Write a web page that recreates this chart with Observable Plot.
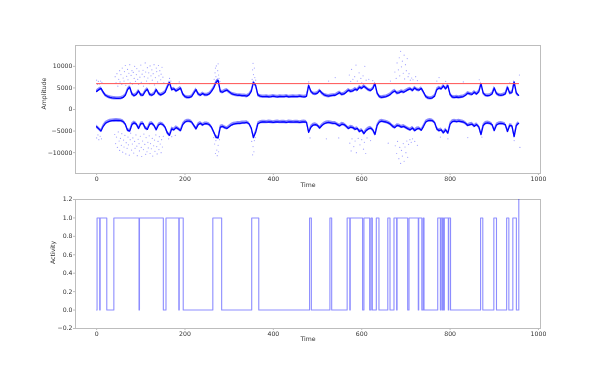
<!DOCTYPE html>
<html>
<head>
<meta charset="utf-8">
<script src="https://cdn.jsdelivr.net/npm/d3@7"></script>
<script src="https://cdn.jsdelivr.net/npm/@observablehq/plot@0.6"></script>
<style>
  html, body { margin: 0; padding: 0; background: #fff; }
  #fig { position: relative; width: 600px; height: 375px; overflow: hidden; background: #fff; }
  #top, #bottom { position: absolute; left: 0; will-change: transform; }
  #top { top: 0; }
  #bottom { top: 192px; }
  svg text { -webkit-font-smoothing: antialiased; }
</style>
</head>
<body>
<div id="fig"><div id="top"></div><div id="bottom"></div></div>
<script>
// ---------- DATA ----------
const envStep = 5; // sampling of the envelope (Time units)
// upper envelope (centre of dense band), t = 0,5,10,...,955
const upperEnv = [
  4200,4600,4900,4000,3300,3000,2800,2700,2650,2600,
  2600,2650,2800,3300,4600,5200,3600,3200,3500,4300,
  3400,3300,4200,4700,3500,3300,3600,4600,3700,3400,
  3600,4000,5200,6300,4600,4800,4300,4600,5000,3600,
  3000,2800,2800,3000,3800,4600,3600,3300,3700,3400,
  3400,3600,4200,5000,6200,6800,4200,4000,4300,4500,
  4100,3700,3500,3400,3300,3300,3200,3200,3100,3400,
  4200,6300,5600,3400,3100,3000,3000,3050,2950,3000,
  3100,3000,2950,3050,3000,3000,3100,2950,3000,3050,
  3000,3000,3100,3000,2950,3050,5600,4200,3700,3600,
  3800,4400,3800,3400,3200,3100,3200,3300,3300,3600,
  3900,3500,3600,4000,4500,4200,4300,4700,4500,5200,
  4900,5400,5000,4600,4400,4800,6000,3800,3000,2800,
  2900,3000,3200,3500,4000,4300,3800,3900,4200,4000,
  4300,4600,4800,4400,5000,4600,4500,4900,4000,3000,
  2700,2600,2700,3100,4600,5000,4800,5500,4800,5600,
  3500,2900,2800,2900,2800,2900,3000,3300,3800,3600,
  3500,4000,3600,4100,6000,3800,3300,3200,3300,3600,
  5000,3700,3400,3300,3400,3600,5200,3800,3900,6400,
  3800,3300
];
// lower envelope, same sampling
const lowerEnv = [
  -4000,-4500,-5000,-3900,-3200,-2900,-2700,-2600,-2550,-2500,
  -2550,-2600,-2800,-3400,-4800,-5000,-3500,-3100,-3400,-4400,
  -3300,-3200,-4300,-4600,-3400,-3200,-3700,-4700,-3600,-3300,
  -3500,-4100,-5400,-6000,-4500,-4700,-4200,-4500,-4900,-3500,
  -2900,-2700,-2700,-2900,-3700,-4500,-3500,-3200,-3600,-3300,
  -3300,-3500,-4100,-5200,-6400,-6600,-4100,-3900,-4200,-4400,
  -4000,-3600,-3400,-3300,-3200,-3200,-3100,-3100,-3000,-3300,
  -4300,-6500,-5300,-3300,-3000,-2900,-2900,-2950,-2850,-2900,
  -3000,-2900,-2850,-2950,-2900,-2900,-3000,-2850,-2900,-2950,
  -2900,-2900,-3000,-2900,-2850,-2950,-5300,-4100,-3600,-3500,
  -3700,-4300,-3700,-3300,-3100,-3000,-3100,-3200,-3200,-3500,
  -3800,-3400,-3500,-3900,-4400,-4100,-4200,-4600,-4400,-5100,
  -4800,-5600,-4900,-4500,-4300,-4700,-5800,-3700,-2900,-2700,
  -2800,-2900,-3100,-3400,-3900,-4200,-3700,-3800,-4100,-3900,
  -4200,-4500,-4700,-4300,-4900,-4500,-4400,-4800,-3900,-2900,
  -2600,-2500,-2600,-3000,-4500,-4900,-4700,-5400,-4700,-5500,
  -3400,-2800,-2700,-2800,-2700,-2800,-2900,-3200,-3700,-3500,
  -3400,-3900,-3500,-4000,-5800,-3700,-3200,-3100,-3200,-3500,
  -4900,-3600,-3300,-3200,-3300,-3500,-5100,-3700,-3800,-6300,
  -3700,-3200
];
// scattered samples above the upper band [Time, Amplitude]
const upperScatter = [
  [0,6800],[2,5800],[4,6500],[6,5900],[9,6600],[12,6300],
  [42,7600],[44,6200],[46,8300],[48,5400],[50,7000],[52,9000],[53,6400],[55,8100],[57,5800],[58,9600],
  [60,7300],[62,6600],[63,8800],[65,10200],[66,5600],[68,7700],[70,9300],[71,6900],[73,8400],[75,10400],
  [76,6200],[78,7900],[80,9000],[81,5900],[83,8600],[85,7200],[86,10000],[88,6500],[90,8100],[91,9500],
  [93,7000],[95,5800],[96,8900],[98,7500],[100,10300],[101,6300],[103,8200],[105,9100],[106,5400],[108,7600],
  [110,10800],[111,8700],[113,6600],[115,9700],[116,7300],[118,8500],[120,6000],[121,10100],[123,7800],
  [125,9200],[126,6800],[128,8300],[130,10400],[131,5700],[133,7400],[135,9600],[136,8800],[138,6400],
  [140,10200],[141,7800],[143,9000],[145,6900],[146,8200],[148,9800],[150,7500],[152,6200],
  [165,7200],[168,6600],[180,6000],[187,6400],
  [266,7000],[268,8500],[269,9600],[270,7600],[271,10100],[272,6800],[274,9000],[275,10600],[276,8000],[277,7200],[279,6500],
  [352,7000],[353,9200],[354,10700],[355,8100],[357,9600],[358,7400],[360,6800],
  [480,6400],[525,6600],[540,7400],[572,8000],[575,6500],[577,9300],[580,7000],[584,7600],[587,10300],
  [590,6600],[594,8500],[598,7200],[600,6200],[603,7800],[607,10000],[610,6800],[616,7000],[625,6700],
  [665,6600],[675,8700],[678,7200],[680,10800],[683,9200],[685,12000],[686,7800],[688,13500],[690,9900],
  [692,11200],[694,8400],[696,12600],[697,7100],[699,10400],[701,9000],[703,11800],[705,7600],[707,8300],
  [710,6800],[713,7300],[716,6900],[722,7600],[726,6700],
  [770,6600],[775,7400],[790,6500],[830,6400],[866,6900],[935,6200],[957,8000]
];
// scattered samples below the lower band [Time, Amplitude]
const lowerScatter = [
  [0,-6600],[3,-5900],[5,-7000],[8,-6200],[11,-6800],
  [41,-5800],[43,-7900],[45,-6400],[47,-8800],[49,-5200],[51,-7300],[52,-9500],[54,-6700],[56,-8300],
  [57,-5600],[59,-9900],[61,-7100],[62,-8700],[64,-6000],[66,-10300],[67,-7700],[69,-9000],[71,-6400],
  [72,-8200],[74,-10600],[76,-7000],[77,-5500],[79,-9400],[81,-8000],[82,-6600],[84,-10100],[86,-7400],
  [87,-9000],[89,-5900],[91,-8500],[92,-10700],[94,-6900],[96,-7900],[97,-9600],[99,-6200],[101,-8800],
  [102,-10900],[104,-7300],[106,-9300],[107,-5700],[109,-8100],[111,-10400],[112,-6500],[114,-9800],
  [116,-7600],[117,-8900],[119,-6100],[121,-10200],[122,-7900],[124,-9100],[126,-6700],[127,-10800],
  [129,-8400],[131,-7100],[132,-9700],[134,-5900],[136,-8600],[137,-10300],[139,-7400],[141,-9300],
  [142,-6300],[144,-8000],[146,-10000],[147,-7000],[149,-8700],[151,-6200],
  [163,-6800],[170,-6300],[178,-6000],
  [265,-6500],[267,-8000],[269,-10200],[270,-7200],[272,-9400],[273,-10700],[275,-8300],[276,-9800],[278,-7000],
  [351,-7400],[353,-10500],[354,-8600],[356,-9800],[357,-7200],[359,-6500],
  [483,-6600],[520,-6800],[548,-6600],[573,-7800],[576,-9600],[578,-6800],[582,-8600],[585,-7300],
  [588,-10000],[592,-6700],[596,-8200],[600,-7000],[604,-9200],[606,-7600],[609,-10200],[612,-6600],[620,-7200],
  [660,-7800],[676,-8400],[679,-10200],[681,-7400],[684,-11400],[686,-8800],[688,-12500],[690,-9500],
  [692,-10800],[694,-7900],[696,-12000],[698,-8700],[700,-10000],[702,-7300],[704,-11100],[706,-8100],
  [709,-7000],[712,-7600],[715,-6800],[720,-7400],[726,-8300],
  [778,-6400],[795,-6800],[840,-6500],[872,-6400],[945,-7200],[958,-8800]
];
const thresholdLevel = 6000;
const thresholdSpan = [0, 957];

// activity: intervals where activity = 1 [start, end]
const activeIntervals = [
  [1,7],[8,23],[39,96],[97,151],[157,186],[187,196],[263,283],[351,367],
  [482,486],[528,532],[567,573],[574,602],[605,618],[621,624],[633,639],[659,664],
  [673,679],[680,704],[707,728],[729,736],[739,741],
  [772,778],[779,782],[783,785],[787,796],[797,801],
  [869,874],[899,905],[928,933],[942,950]
];
const finalRise = [955.5, 1.6];

const xTicks = [0, 200, 400, 600, 800, 1000];
const ampTicks = [-10000, -5000, 0, 5000, 10000];
const actTicks = [-0.2, 0, 0.2, 0.4, 0.6, 0.8, 1.0, 1.2];

// ---------- BUILD ----------
const n = Math.min(upperEnv.length, lowerEnv.length);
const env = [];
for (let i = 0; i < n; i++) env.push({t: i * envStep, u: upperEnv[i], l: lowerEnv[i]});
const scatter = upperScatter.concat(lowerScatter).map(([t, a]) => ({t, a}));

const act = [{t: 0, v: 0}];
for (const [a, b] of activeIntervals) { act.push({t: a, v: 1}); act.push({t: b, v: 0}); }
act.push({t: finalRise[0], v: finalRise[1]});

const FONT = "DejaVu Sans, sans-serif";
const GRID = "#bdbdbd";
const TXT = "#333333";
const xDomain = [-47.8, 1004.6];
const minus = f => d => f(d).replace("-", "\u2212");

const topPlot = Plot.plot({
  width: 600, height: 192,
  marginLeft: 75, marginRight: 60, marginTop: 45, marginBottom: 19,
  style: {fontFamily: FONT, fontSize: "6.2px", color: TXT, background: "white"},
  x: {domain: xDomain},
  y: {domain: [-14840, 14840]},
  marks: [
    Plot.frame({stroke: GRID}),
    Plot.dot(scatter, {x: "t", y: "a", r: 0.6, fill: "#3030ff", fillOpacity: 0.45, stroke: null}),
    Plot.areaY(env, {x: "t", y1: d => d.u - 420, y2: d => d.u + 380, fill: "blue", fillOpacity: 0.45}),
    Plot.areaY(env, {x: "t", y1: d => d.l - 380, y2: d => d.l + 420, fill: "blue", fillOpacity: 0.45}),
    Plot.line(env, {x: "t", y: "u", stroke: "blue", strokeWidth: 1.3}),
    Plot.line(env, {x: "t", y: "l", stroke: "blue", strokeWidth: 1.3}),
    Plot.ruleY([thresholdLevel], {x1: thresholdSpan[0], x2: thresholdSpan[1], stroke: "#ff5050", strokeWidth: 1}),
    Plot.axisX({ticks: xTicks, tickSize: 2, tickPadding: 1, stroke: GRID, label: null, tickFormat: d3.format("d")}),
    Plot.axisY({ticks: ampTicks, tickSize: 2, tickPadding: 1, stroke: GRID, label: null, tickFormat: minus(d3.format("d"))}),
    Plot.text(["Amplitude"], {frameAnchor: "left", dx: -31, rotate: -90, fill: TXT, fontSize: 6.2}),
    Plot.text(["Time"], {frameAnchor: "bottom", dy: 13, fill: TXT, fontSize: 6.2})
  ]
});
document.getElementById("top").appendChild(topPlot);

const bottomPlot = Plot.plot({
  width: 600, height: 183,
  marginLeft: 75, marginRight: 60, marginTop: 7, marginBottom: 47,
  style: {fontFamily: FONT, fontSize: "6.2px", color: TXT, background: "white"},
  x: {domain: xDomain},
  y: {domain: [-0.2, 1.2]},
  marks: [
    Plot.frame({stroke: GRID}),
    Plot.line(act, {x: "t", y: "v", curve: "step-after", stroke: "blue", strokeOpacity: 0.45, strokeWidth: 1.1, clip: true}),
    Plot.axisX({ticks: xTicks, tickSize: 2, tickPadding: 1, stroke: GRID, label: null, tickFormat: d3.format("d")}),
    Plot.axisY({ticks: actTicks, tickSize: 2, tickPadding: 1, stroke: GRID, label: null, tickFormat: minus(d3.format(".1f"))}),
    Plot.text(["Activity"], {frameAnchor: "left", dx: -22, rotate: -90, fill: TXT, fontSize: 6.2}),
    Plot.text(["Time"], {frameAnchor: "bottom", dy: 12, fill: TXT, fontSize: 6.2})
  ]
});
document.getElementById("bottom").appendChild(bottomPlot);
</script>
</body>
</html>
